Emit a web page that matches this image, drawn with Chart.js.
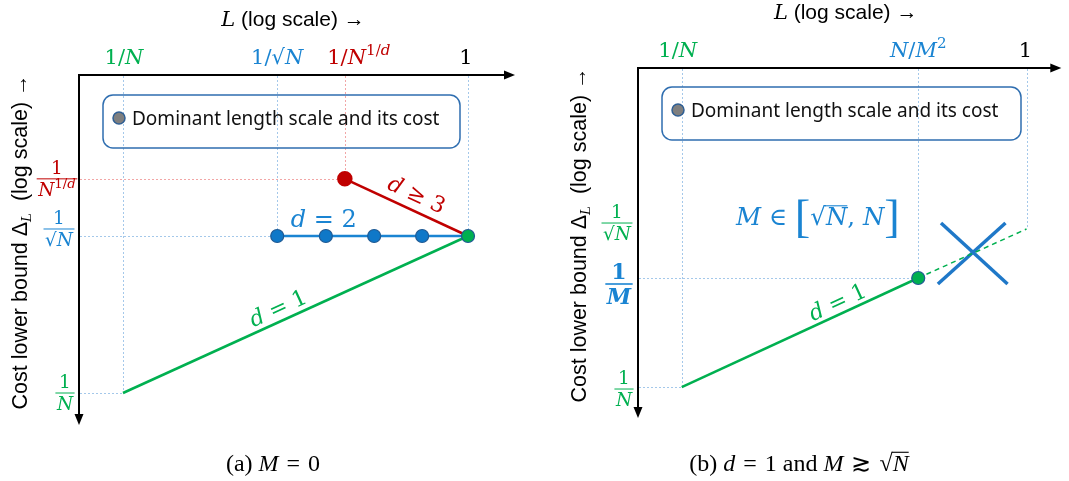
<!DOCTYPE html>
<html>
<head>
<meta charset="utf-8">
<title>Dominant length scale and its cost</title>
<script src="https://cdn.jsdelivr.net/npm/chart.js@4.4.1/dist/chart.umd.min.js"></script>
<style>
  html, body { margin: 0; padding: 0; background: #fff; }
  #wrap { position: relative; width: 1069px; height: 481px; overflow: hidden; }
  canvas { position: absolute; top: 0; }
  #chartA { left: 0; }
  #chartB { left: 535px; }
</style>
</head>
<body>
<div id="wrap">
  <canvas id="chartA" width="535" height="481"></canvas>
  <canvas id="chartB" width="534" height="481"></canvas>
</div>
<script>
// Both axes are log scales; every value below is the exponent of N (1/N -> -1, 1 -> 0),
// read off the sketch.

// ---- panel (a): M = 0 ----
const aXTickLabels = ['1/N', '1/√N', '1/N^(1/d)', '1'];
const aXTickValues = [-1, -0.553, -0.357, 0];
const aXGuideEnd = [-1, -0.5, -0.318, -0.5];
const aYTickLabels = ['1|N^(1/d)', '1|√N', '1|N'];
const aYTickValues = [-0.318, -0.5, -1];
const aYGuideEnd = [-0.357, -0.553, -1];
const aD1X = [-1, 0];
const aD1Y = [-1, -0.5];
const aD2X = [-0.553, -0.412, -0.272, -0.133, 0];
const aD2Y = [-0.5, -0.5, -0.5, -0.5, -0.5];
const aD3X = [-0.357, 0];
const aD3Y = [-0.318, -0.5];

// ---- panel (b): d = 1 and M >~ sqrt(N) ----
const bXTickLabels = ['1/N', 'N/M^2', '1'];
const bXTickValues = [-1, -0.314, 0];
const bXGuideEnd = [-1, -0.655, -0.5];
const bYTickLabels = ['1|√N', '1|M', '1|N'];
const bYTickValues = [-0.5, -0.655, -1];
const bYGuideEnd = [null, -0.314, -1];
const bD1X = [-1, -0.314];
const bD1Y = [-1, -0.655];
const bDashX = [-0.314, 0];
const bDashY = [-0.655, -0.5];
const bCross1X = [-0.248, -0.055];
const bCross1Y = [-0.481, -0.674];
const bCross2X = [-0.061, -0.257];
const bCross2Y = [-0.481, -0.674];

const GREEN = '#00b050', BLUE = '#1a84d2', RED = '#c00000', INK = '#000';
const POINT_BLUE = '#0f78c8', POINT_EDGE = '#1f5a94';
const GUIDE_BLUE = '#a4c8ea', GUIDE_RED = '#f2a6a6';
const SERIF = '"DejaVu Serif"', SANS = '"Liberation Sans"', TIMES = '"Liberation Serif"', UI = '"Noto Sans"';
const SP = '\u2004';

const pts = (xs, ys) => xs.map((x, i) => ({ x: x, y: ys[i] }));

// --- tiny math-ish text renderer ---
function mathParts(str, bold) {
    const out = [];
    for (let i = 0; i < str.length; i++) {
        const c = str[i];
        if (c === '^') {
            let grp;
            if (str[i + 1] === '(') { const j = str.indexOf(')', i); grp = str.slice(i + 2, j); i = j; }
            else { grp = str[i + 1]; i++; }
            for (const g of grp) out.push({ t: g, i: /[A-Za-z]/.test(g), b: bold, s: 0.72, dy: -0.42 });
            continue;
        }
        out.push({ t: c, i: /[A-Za-z]/.test(c), b: bold });
    }
    return out;
}

function fontOf(p, size, fam) {
    const sz = (size * (p.s || 1)).toFixed(1);
    return (p.i ? 'italic ' : '') + (p.b ? 'bold ' : '') + sz + 'px ' + (p.f || fam || SERIF);
}

function richWidth(ctx, parts, size, fam) {
    let w = 0;
    for (const p of parts) { ctx.font = fontOf(p, size, fam); w += ctx.measureText(p.t).width; }
    return w;
}

function rich(ctx, parts, x, y, size, color, align, fam) {
    const w = richWidth(ctx, parts, size, fam);
    let cx = align === 'left' ? x : align === 'right' ? x - w : x - w / 2;
    ctx.fillStyle = color; ctx.strokeStyle = color;
    ctx.textAlign = 'left'; ctx.textBaseline = 'alphabetic';
    for (const p of parts) {
        ctx.font = fontOf(p, size, fam);
        const pw = ctx.measureText(p.t).width;
        const py = y + (p.dy || 0) * size;
        ctx.fillText(p.t, cx, py);
        if (p.bar) {
            ctx.lineWidth = 1.1;
            ctx.beginPath(); ctx.moveTo(cx - 1, py - size * 0.78); ctx.lineTo(cx + pw, py - size * 0.78); ctx.stroke();
        }
        cx += pw;
    }
    return w;
}

function frac(ctx, label, cx, ly, size, color, bold) {
    const [n, d] = label.split('|');
    const num = mathParts(n, bold), den = mathParts(d, bold);
    const w = Math.max(richWidth(ctx, num, size), richWidth(ctx, den, size)) + 3;
    rich(ctx, num, cx, ly - size * 0.25, size, color, 'center');
    rich(ctx, den, cx, ly + size * 0.92, size, color, 'center');
    ctx.lineWidth = bold ? 1.6 : 1;
    ctx.beginPath(); ctx.moveTo(cx - w / 2, ly); ctx.lineTo(cx + w / 2, ly); ctx.stroke();
}

function alongLine(ctx, sx, sy, xs, ys, t, off, parts, size, color) {
    const x0 = sx.getPixelForValue(xs[0]), y0 = sy.getPixelForValue(ys[0]);
    const x1 = sx.getPixelForValue(xs[xs.length - 1]), y1 = sy.getPixelForValue(ys[ys.length - 1]);
    const ang = Math.atan2(y1 - y0, x1 - x0);
    const cx = x0 + (x1 - x0) * t + Math.sin(ang) * off;
    const cy = y0 + (y1 - y0) * t - Math.cos(ang) * off;
    ctx.save(); ctx.translate(cx, cy); ctx.rotate(ang);
    rich(ctx, parts, 0, size * 0.33, size, color, 'center');
    ctx.restore();
}

function arrowAxes(ctx, a) {
    ctx.save();
    ctx.strokeStyle = INK; ctx.fillStyle = INK; ctx.lineWidth = 2;
    ctx.beginPath();
    ctx.moveTo(a.right - 9, a.top); ctx.lineTo(a.left, a.top); ctx.lineTo(a.left, a.bottom - 9);
    ctx.stroke();
    ctx.beginPath(); ctx.moveTo(a.right, a.top); ctx.lineTo(a.right - 11, a.top - 4.5); ctx.lineTo(a.right - 11, a.top + 4.5); ctx.fill();
    ctx.beginPath(); ctx.moveTo(a.left, a.bottom); ctx.lineTo(a.left - 4.5, a.bottom - 11); ctx.lineTo(a.left + 4.5, a.bottom - 11); ctx.fill();
    ctx.restore();
}

function guides(ctx, sx, sy, a, xv, xEnd, xCol, yv, yEnd, yCol) {
    ctx.save();
    ctx.lineWidth = 1; ctx.setLineDash([2, 2]);
    xv.forEach((v, i) => {
        if (xEnd[i] == null) return;
        const px = Math.round(sx.getPixelForValue(v)) + 0.5;
        ctx.strokeStyle = xCol[i];
        ctx.beginPath(); ctx.moveTo(px, a.top + 1); ctx.lineTo(px, sy.getPixelForValue(xEnd[i])); ctx.stroke();
    });
    yv.forEach((v, i) => {
        if (yEnd[i] == null) return;
        const py = Math.round(sy.getPixelForValue(v)) + 0.5;
        ctx.strokeStyle = yCol[i];
        ctx.beginPath(); ctx.moveTo(a.left + 1, py); ctx.lineTo(sx.getPixelForValue(yEnd[i]), py); ctx.stroke();
    });
    ctx.restore();
}

function legendBox(ctx, a, dx, dy, w, h) {
    const x = a.left + dx, y = a.top + dy;
    ctx.save();
    ctx.strokeStyle = '#2f6eb0'; ctx.lineWidth = 1.5;
    ctx.beginPath(); ctx.roundRect(x, y, w, h, 10); ctx.stroke();
    ctx.fillStyle = '#7f7f7f'; ctx.strokeStyle = '#2f5f94'; ctx.lineWidth = 1.5;
    ctx.beginPath(); ctx.arc(x + 16, y + 23, 6, 0, Math.PI * 2); ctx.fill(); ctx.stroke();
    ctx.fillStyle = '#111'; ctx.font = '19px ' + UI; ctx.textAlign = 'left'; ctx.textBaseline = 'alphabetic';
    ctx.fillText('Dominant length scale and its cost', x + 29, y + 30);
    ctx.restore();
}

function axisTitles(ctx, a) {
    rich(ctx, [{ t: 'L', i: 1, f: SERIF }, { t: ' (log scale) →', f: SANS }], (a.left + a.right) / 2 - 4, a.top - 49, 21, INK, 'center');
    ctx.save();
    ctx.translate(a.left - 52, (a.top + a.bottom) / 2 - 8);
    ctx.rotate(-Math.PI / 2);
    rich(ctx, [{ t: 'Cost lower bound ', f: SANS }, { t: 'Δ', f: SANS }, { t: 'L', i: 1, s: 0.62, dy: 0.18 },
               { t: '  (log scale) →', f: SANS }], 0, 0, 21.5, INK, 'center');
    ctx.restore();
}

function baseOptions(pad, xr, yr) {
    return {
        responsive: false,
        animation: false,
        events: [],
        layout: { padding: pad },
        plugins: { legend: { display: false }, tooltip: { enabled: false } },
        scales: {
            x: { type: 'linear', display: false, min: xr[0], max: xr[1] },
            y: { type: 'linear', display: false, min: yr[0], max: yr[1] }
        }
    };
}

document.addEventListener('DOMContentLoaded', function() {
    // Panel (a)
    new Chart(document.getElementById('chartA'), {
        type: 'scatter',
        data: {
            datasets: [{
                data: pts(aD1X, aD1Y), showLine: true, borderColor: GREEN, borderWidth: 2.5,
                pointRadius: [0, 6.5], pointBackgroundColor: GREEN, pointBorderColor: POINT_EDGE, pointBorderWidth: 1.2, clip: false
            }, {
                data: pts(aD3X, aD3Y), showLine: true, borderColor: RED, borderWidth: 2.5,
                pointRadius: [6.5, 0], pointBackgroundColor: RED, pointBorderColor: RED, clip: false
            }, {
                data: pts(aD2X, aD2Y), showLine: true, borderColor: BLUE, borderWidth: 2.5,
                pointRadius: [6.5, 6.5, 6.5, 6.5, 0], pointBackgroundColor: POINT_BLUE, pointBorderColor: POINT_EDGE, pointBorderWidth: 1.2, clip: false
            }]
        },
        options: baseOptions({ left: 79, top: 75, right: 20, bottom: 56 }, [-1.1275, 0.1362], [-1.1019, 0.0127]),
        plugins: [{
            id: 'sketchA',
            beforeDatasetsDraw(chart) {
                const { ctx, chartArea: a, scales: { x, y } } = chart;
                guides(ctx, x, y, a, aXTickValues, aXGuideEnd, [GUIDE_BLUE, GUIDE_BLUE, GUIDE_RED, GUIDE_BLUE],
                       aYTickValues, aYGuideEnd, [GUIDE_RED, GUIDE_BLUE, GUIDE_BLUE]);
                arrowAxes(ctx, a);
                legendBox(ctx, a, 24, 20, 357, 53);
            },
            afterDatasetsDraw(chart) {
                const { ctx, chartArea: a, scales: { x, y } } = chart;
                axisTitles(ctx, a);
                const xCol = [GREEN, BLUE, RED, INK], xDx = [1, 0, 14, -2];
                aXTickLabels.forEach((lab, i) => {
                    rich(ctx, mathParts(lab), x.getPixelForValue(aXTickValues[i]) + xDx[i], a.top - 11, 21, xCol[i], 'center');
                });
                const yCol = [RED, BLUE, GREEN], fDx = [-22, -20, -14], fDy = [0, -7, 0];
                aYTickLabels.forEach((lab, i) => {
                    frac(ctx, lab, a.left + fDx[i], y.getPixelForValue(aYTickValues[i]) + fDy[i], 18.5, yCol[i]);
                });
                rich(ctx, mathParts('d = 2'), x.getPixelForValue(aD2X[1]) - 2, y.getPixelForValue(aD2Y[1]) - 9, 24, BLUE, 'center');
                alongLine(ctx, x, y, aD3X, aD3Y, 0.53, 16, mathParts('d ≥ 3'), 22, RED);
                alongLine(ctx, x, y, aD1X, aD1Y, 0.465, 13, mathParts('d = 1'), 22, GREEN);
                rich(ctx, [{ t: '(a) ' }, { t: 'M', i: 1 }, { t: SP + '=' + SP + '0' }], 273, 471, 24, INK, 'center', TIMES);
            }
        }]
    });

    // Panel (b)
    new Chart(document.getElementById('chartB'), {
        type: 'scatter',
        data: {
            datasets: [{
                data: pts(bD1X, bD1Y), showLine: true, borderColor: GREEN, borderWidth: 2.5,
                pointRadius: [0, 6.5], pointBackgroundColor: GREEN, pointBorderColor: POINT_EDGE, pointBorderWidth: 1.2, clip: false
            }, {
                data: pts(bDashX, bDashY), showLine: true, borderColor: GREEN, borderWidth: 1.5, borderDash: [5, 4],
                pointRadius: 0, clip: false
            }, {
                data: pts(bCross1X, bCross1Y), showLine: true, borderColor: '#1f78c8', borderWidth: 3.5, pointRadius: 0, clip: false
            }, {
                data: pts(bCross2X, bCross2Y), showLine: true, borderColor: '#1f78c8', borderWidth: 3.5, pointRadius: 0, clip: false
            }]
        },
        options: baseOptions({ left: 103, top: 68, right: 5, bottom: 63 }, [-1.1268, 0.1009], [-1.098, 0.0095]),
        plugins: [{
            id: 'sketchB',
            beforeDatasetsDraw(chart) {
                const { ctx, chartArea: a, scales: { x, y } } = chart;
                guides(ctx, x, y, a, bXTickValues, bXGuideEnd, [GUIDE_BLUE, GUIDE_BLUE, GUIDE_BLUE],
                       bYTickValues, bYGuideEnd, [GUIDE_BLUE, GUIDE_BLUE, GUIDE_BLUE]);
                arrowAxes(ctx, a);
                legendBox(ctx, a, 24, 19, 359, 53);
            },
            afterDatasetsDraw(chart) {
                const { ctx, chartArea: a, scales: { x, y } } = chart;
                axisTitles(ctx, a);
                const xCol = [GREEN, BLUE, INK], xDx = [-4, 0, -1];
                bXTickLabels.forEach((lab, i) => {
                    rich(ctx, mathParts(lab), x.getPixelForValue(bXTickValues[i]) + xDx[i], a.top - 11, 21, xCol[i], 'center');
                });
                const yCol = [GREEN, BLUE, GREEN], fDx = [-21, -19, -14], fDy = [-6, 6, 2];
                bYTickLabels.forEach((lab, i) => {
                    const bold = i === 1;
                    frac(ctx, lab, a.left + fDx[i], y.getPixelForValue(bYTickValues[i]) + fDy[i], bold ? 22 : 18.5, yCol[i], bold);
                });
                rich(ctx, [{ t: 'M', i: 1 }, { t: ' ∈ ' }, { t: '[', s: 1.9, dy: 0.3, f: TIMES }, { t: '√' }, { t: 'N', i: 1, bar: 1 },
                           { t: ', ' }, { t: 'N', i: 1 }, { t: ']', s: 1.9, dy: 0.3, f: TIMES }],
                     x.getPixelForValue(-0.605), y.getPixelForValue(-0.487), 24.5, BLUE, 'center');
                alongLine(ctx, x, y, bD1X, bD1Y, 0.68, 12, mathParts('d = 1'), 22, GREEN);
                rich(ctx, [{ t: '(b) ' }, { t: 'd', i: 1 }, { t: SP + '=' + SP + '1 and ' }, { t: 'M', i: 1 }, { t: SP + '≳' + SP },
                           { t: '√' }, { t: 'N', i: 1, bar: 1 }], 264, 471, 24, INK, 'center', TIMES);
            }
        }]
    });
});
</script>
</body>
</html>
